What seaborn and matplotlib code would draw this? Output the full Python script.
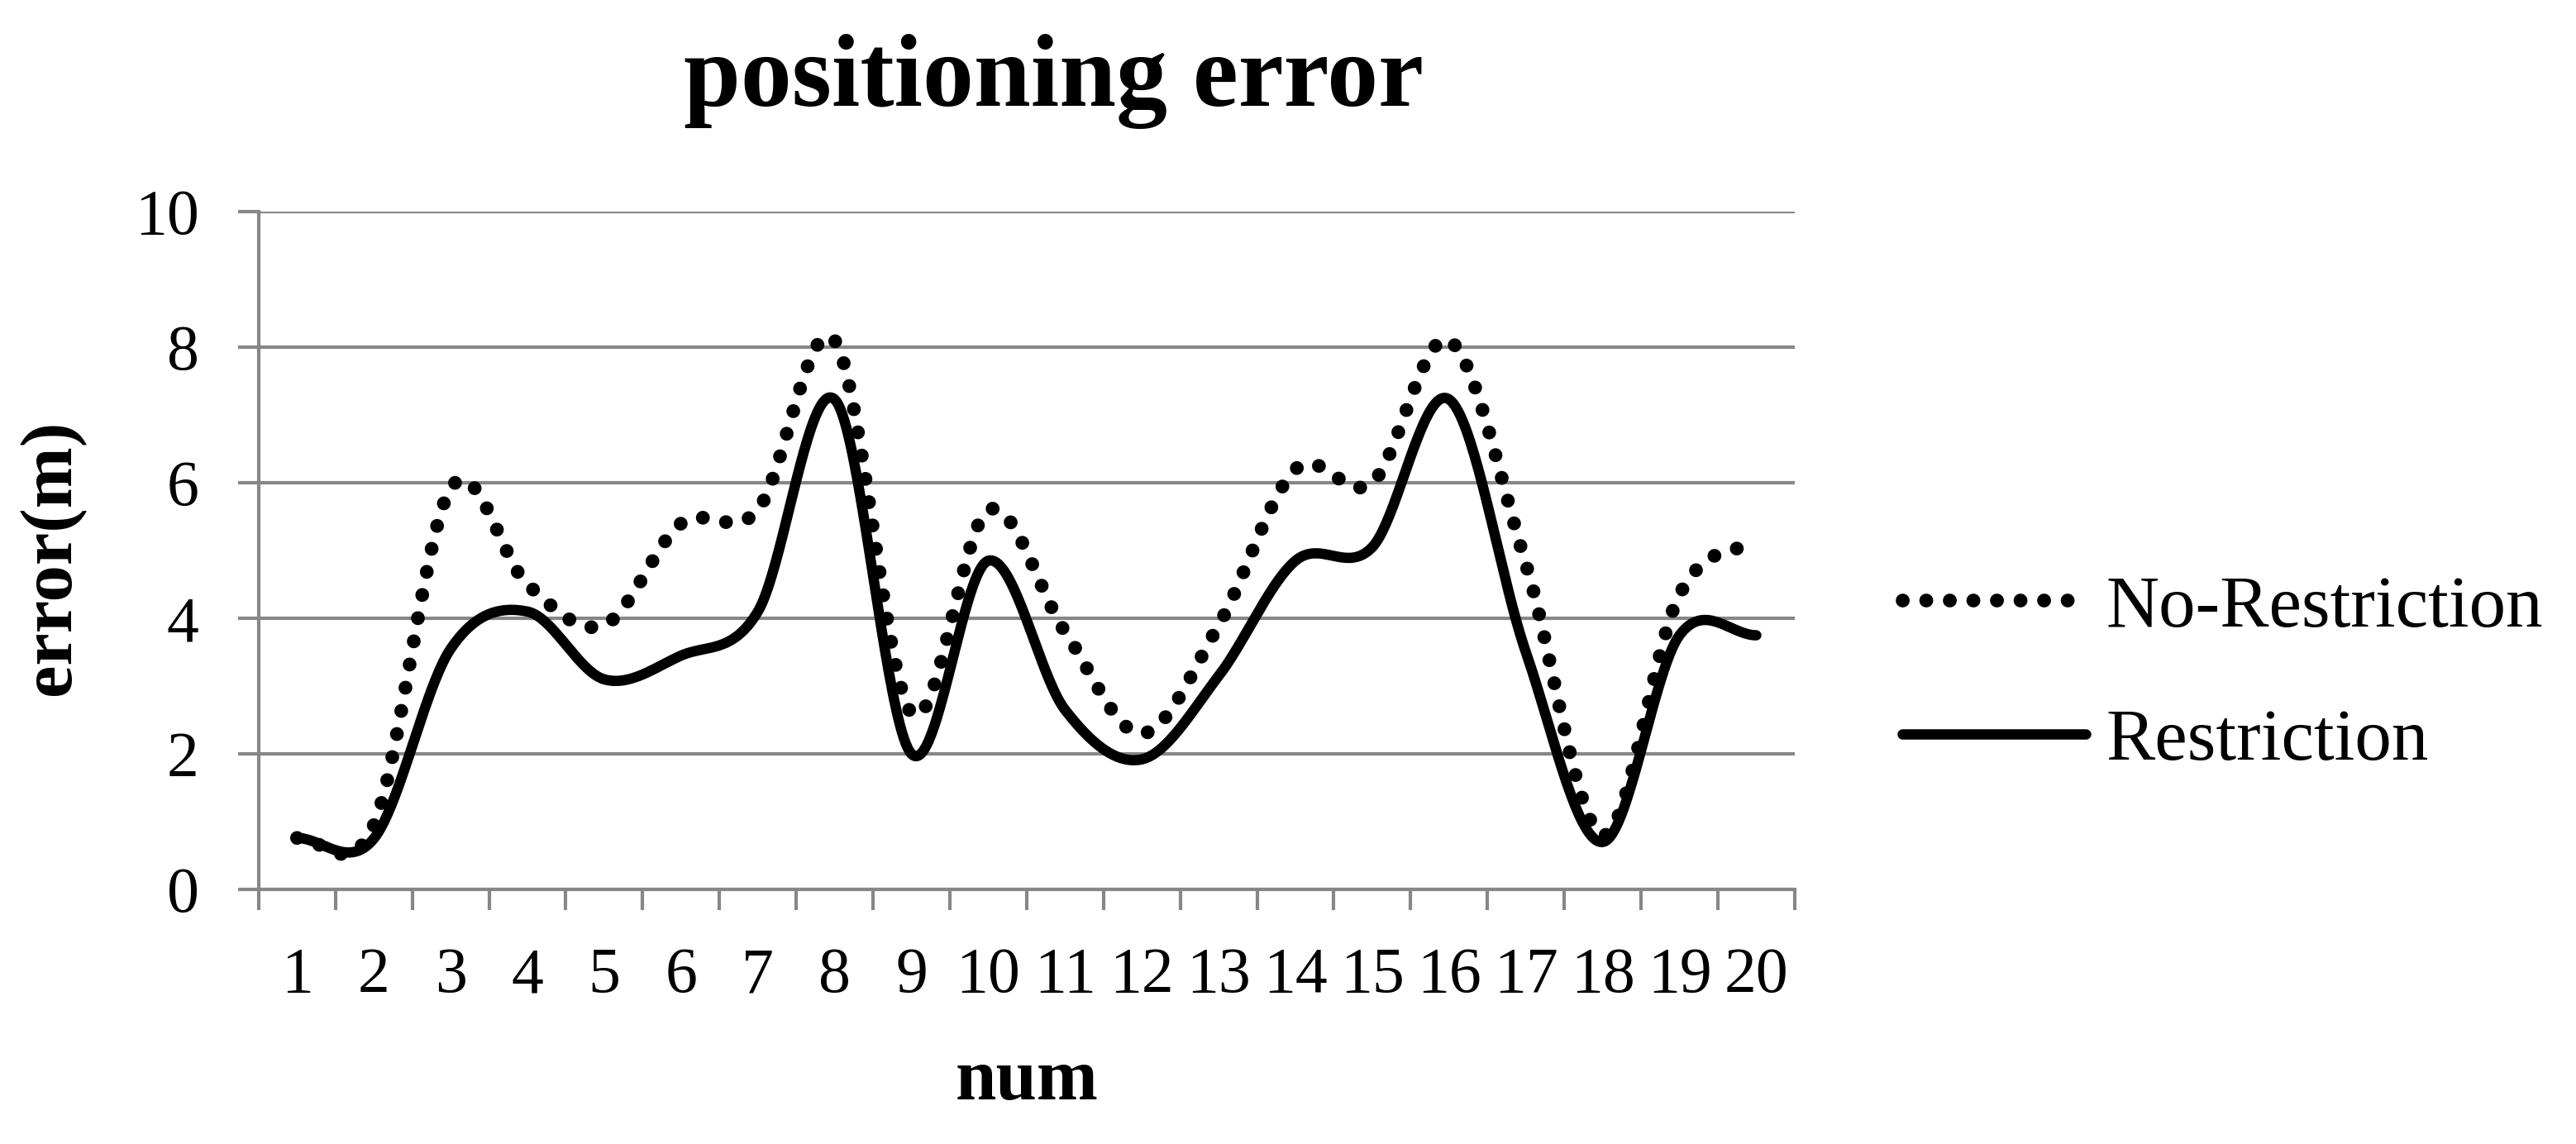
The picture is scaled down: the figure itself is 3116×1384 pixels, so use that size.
import numpy as np
import pandas as pd
import matplotlib
matplotlib.use('Agg')
import matplotlib.pyplot as plt
import seaborn as sns

# values (error in metres per sample)
nums = list(range(1, 21))
no_restriction = [0.76, 0.95, 5.92, 4.5, 3.9, 5.4, 5.6, 8.1, 2.6, 5.6,
                  3.8, 2.3, 3.9, 6.2, 6.0, 8.1, 4.8, 0.8, 4.35, 5.1]
restriction = [0.76, 0.75, 3.55, 4.1, 3.1, 3.45, 4.1, 7.23, 2.0, 4.85,
               2.65, 1.92, 3.15, 4.85, 5.05, 7.23, 3.5, 0.7, 3.75, 3.75]
series_names = ['No-Restriction', 'Restriction']
y_ticks = [0, 2, 4, 6, 8, 10]

GRAY = '#878787'


def excel_smooth(xs, ys, steps=40):
    # Excel "smoothed line": cubic Hermite (Catmull-Rom) through every point
    xs = np.asarray(xs, dtype=float)
    ys = np.asarray(ys, dtype=float)
    ext = np.r_[ys[0], ys, ys[-1]]
    m = (ext[2:] - ext[:-2]) / 2.0
    out_x, out_y = [], []
    t = np.linspace(0, 1, steps, endpoint=False)
    h00 = 2 * t**3 - 3 * t**2 + 1
    h10 = t**3 - 2 * t**2 + t
    h01 = -2 * t**3 + 3 * t**2
    h11 = t**3 - t**2
    for i in range(len(ys) - 1):
        out_x.append(xs[i] + t * (xs[i + 1] - xs[i]))
        out_y.append(h00 * ys[i] + h10 * m[i] + h01 * ys[i + 1] + h11 * m[i + 1])
    out_x.append([xs[-1]])
    out_y.append([ys[-1]])
    return np.concatenate(out_x), np.concatenate(out_y)


frames = []
for name, vals in zip(series_names, [no_restriction, restriction]):
    sx, sy = excel_smooth(nums, vals)
    frames.append(pd.DataFrame({'num': sx, 'error': sy, 'series': name}))
df = pd.concat(frames, ignore_index=True)

sns.set_theme(style='white')
plt.rcParams['font.family'] = ['Liberation Serif', 'DejaVu Serif']
plt.rcParams['text.color'] = 'black'
plt.rcParams['axes.labelcolor'] = 'black'
plt.rcParams['xtick.color'] = 'black'
plt.rcParams['ytick.color'] = 'black'

fig = plt.figure(figsize=(31.16, 13.84), dpi=100)
ax = fig.add_axes([0.1004, 0.2225, 0.5963, 0.5925])

sns.lineplot(data=df[df['series'] == 'No-Restriction'], x='num', y='error',
             sort=False, estimator=None, color='black', lw=12,
             linestyle=(0, (0.01, 1.7)), dash_capstyle='round',
             label='No-Restriction', ax=ax)
sns.lineplot(data=df[df['series'] == 'Restriction'], x='num', y='error',
             sort=False, estimator=None, color='black', lw=9,
             solid_capstyle='round', label='Restriction', ax=ax)

ax.set_xlim(0.5, 20.5)
ax.set_ylim(0, 10)
ax.set_yticks(y_ticks)
ax.set_yticklabels([str(v) for v in y_ticks])
ax.set_xticks(nums)
ax.set_xticklabels([str(n) for n in nums])
ax.set_xticks(np.arange(0.5, 21, 1), minor=True)

ax.yaxis.grid(True, color=GRAY, lw=3)
ax.xaxis.grid(False)
sns.despine(ax=ax, top=True, right=True)
for side in ['left', 'bottom']:
    ax.spines[side].set_color(GRAY)
    ax.spines[side].set_linewidth(3)

ax.tick_params(axis='x', which='major', length=0, pad=50, labelsize=56,
               labelcolor='black')
ax.tick_params(axis='x', which='minor', bottom=True, length=18, width=3,
               color=GRAY)
ax.tick_params(axis='y', which='major', left=True, length=18, width=3,
               color=GRAY, pad=34, labelsize=56, labelcolor='black')

ax.set_xlabel('num', fontsize=64, fontweight='bold', color='black')
ax.xaxis.label.set_va('baseline')
ax.xaxis.set_label_coords(0.3986, 0.039, transform=fig.transFigure)
ax.set_ylabel('error(m)', fontsize=64, fontweight='bold', color='black')
ax.yaxis.label.set_va('center')
ax.yaxis.set_label_coords(0.02, 0.513, transform=fig.transFigure)

fig.text(0.409, 0.9075, 'positioning error', fontsize=89, fontweight='bold',
         ha='center', va='baseline', color='black')

leg = ax.legend(loc='center left', bbox_to_anchor=(0.7385, 0.41),
                bbox_transform=fig.transFigure, frameon=False, fontsize=64,
                handlelength=2.5, handletextpad=0.27, labelspacing=0.9,
                borderpad=0, borderaxespad=0)
for txt in leg.get_texts():
    txt.set_color('black')

fig.savefig('out.png', dpi=100)
plt.close(fig)
